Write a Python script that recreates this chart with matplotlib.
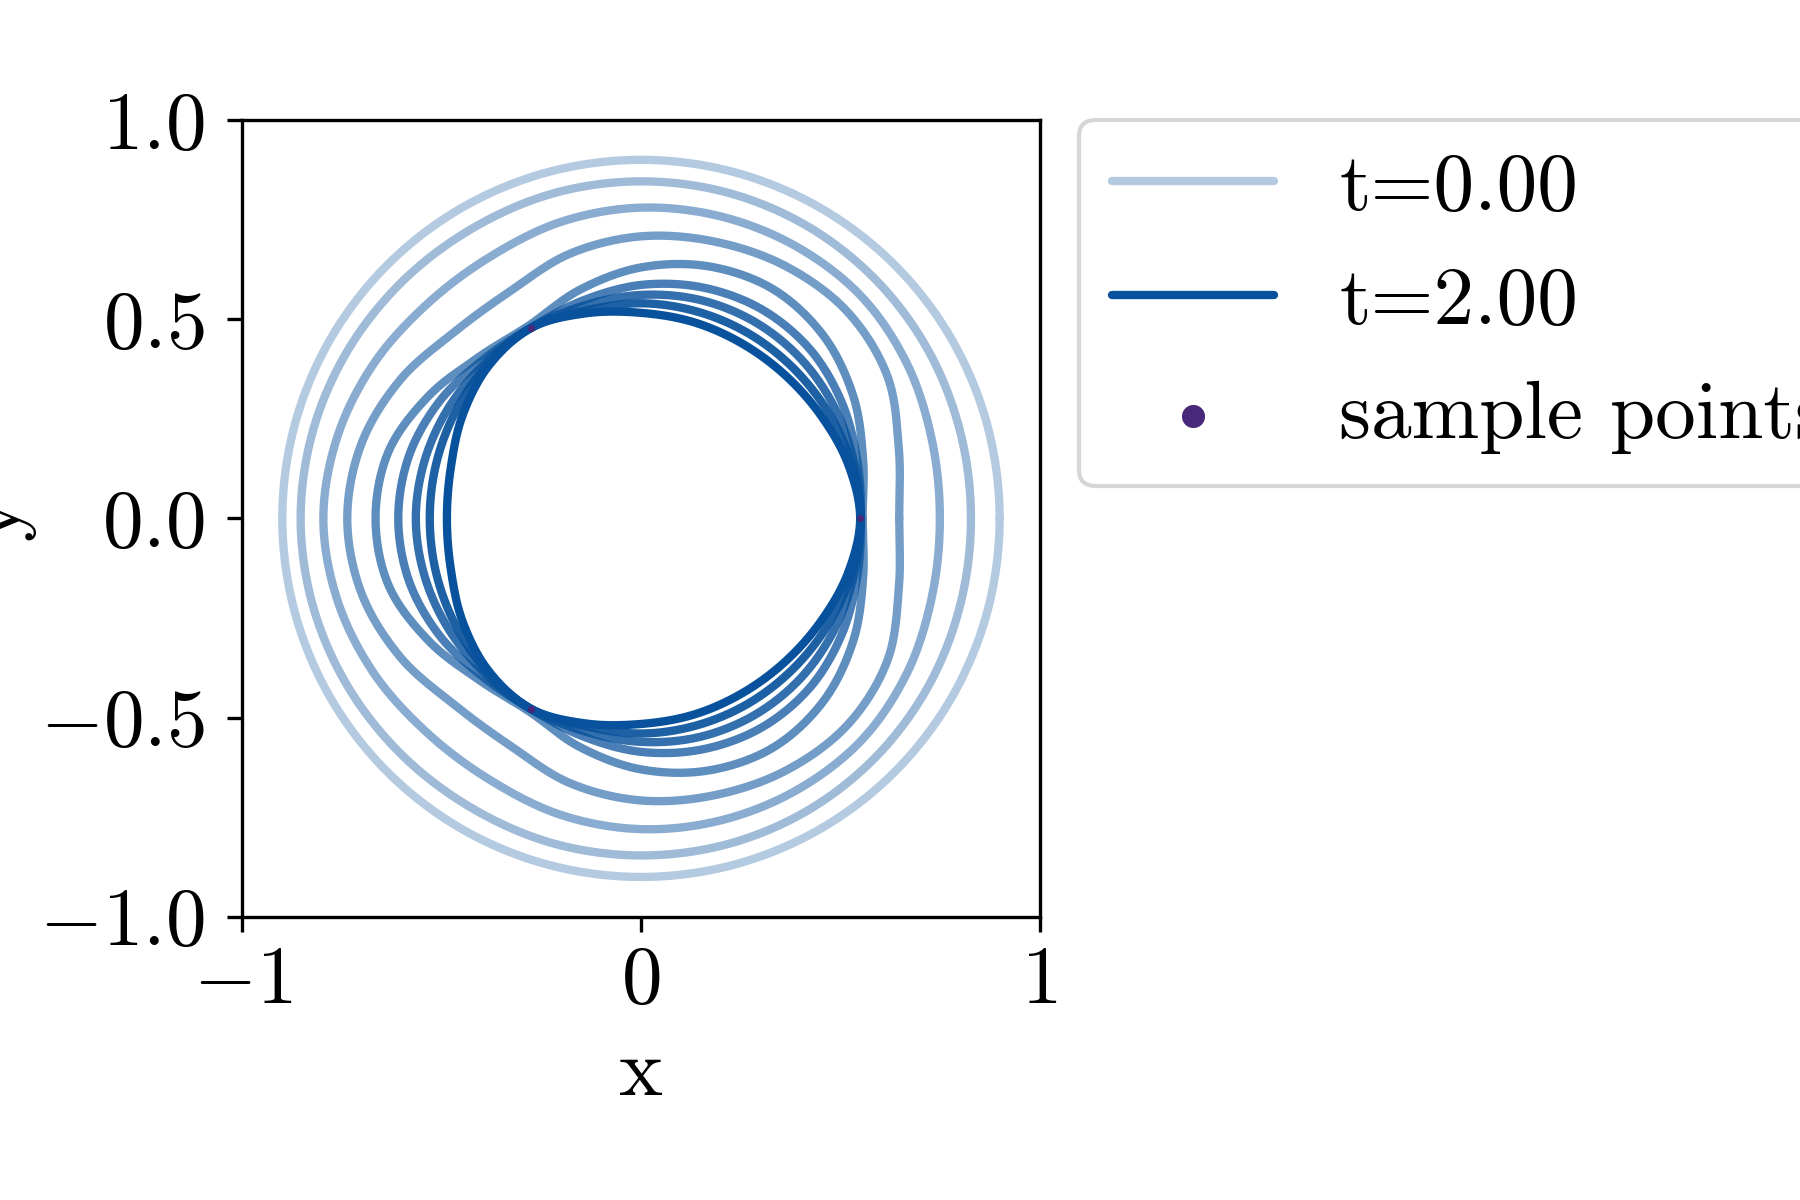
import numpy as np
import matplotlib
matplotlib.use("Agg")
import matplotlib.pyplot as plt
from matplotlib.ticker import FuncFormatter, MultipleLocator

plt.rcParams['mathtext.fontset'] = 'cm'
plt.rcParams['font.family'] = ['cmr10', 'DejaVu Serif']
plt.rcParams['axes.unicode_minus'] = False

# ---- data ----
# polar angle (deg) of the read points, upper half; curves are mirror-symmetric about y=0
angles_deg = [0, 15, 30, 45, 60, 75, 90, 105, 120, 135, 150, 165, 180]
# radius of each curve at those angles, from t=0.00 (outer) to t=2.00 (inner)
r_t0 = [0.900, 0.900, 0.900, 0.900, 0.900, 0.900, 0.900, 0.900, 0.900, 0.900, 0.900, 0.900, 0.900]
r_t1 = [0.828, 0.830, 0.835, 0.840, 0.844, 0.846, 0.846, 0.845, 0.842, 0.844, 0.848, 0.852, 0.854]
r_t2 = [0.750, 0.756, 0.772, 0.785, 0.786, 0.784, 0.780, 0.771, 0.758, 0.760, 0.775, 0.789, 0.797]
r_t3 = [0.648, 0.670, 0.714, 0.733, 0.730, 0.719, 0.708, 0.688, 0.658, 0.662, 0.697, 0.726, 0.737]
r_t4 = [0.556, 0.577, 0.615, 0.648, 0.664, 0.655, 0.630, 0.594, 0.560, 0.574, 0.615, 0.655, 0.666]
r_t5 = [0.552, 0.562, 0.582, 0.600, 0.606, 0.600, 0.586, 0.566, 0.553, 0.562, 0.585, 0.603, 0.609]
r_t6 = [0.551, 0.553, 0.560, 0.567, 0.570, 0.568, 0.561, 0.553, 0.552, 0.552, 0.557, 0.562, 0.565]
r_t7 = [0.551, 0.546, 0.540, 0.537, 0.537, 0.538, 0.540, 0.540, 0.552, 0.545, 0.537, 0.532, 0.530]
r_t8 = [0.550, 0.537, 0.520, 0.510, 0.507, 0.510, 0.516, 0.533, 0.552, 0.541, 0.517, 0.494, 0.487]
curves = [r_t0, r_t1, r_t2, r_t3, r_t4, r_t5, r_t6, r_t7, r_t8]

sample_x = [0.55, -0.276, -0.276]
sample_y = [0.0, 0.478, -0.478]

legend_labels = ["t=0.00", "t=2.00", "sample points"]
x_ticks = [-1, 0, 1]


def closed_smooth(theta_half, r_half, n=24):
    """Mirror the upper half and draw a smooth closed (Catmull-Rom) line through the points."""
    th = np.deg2rad(np.asarray(theta_half, float))
    r = np.asarray(r_half, float)
    th_full = np.concatenate([th, 2 * np.pi - th[-2:0:-1]])
    r_full = np.concatenate([r, r[-2:0:-1]])
    P = np.column_stack([r_full * np.cos(th_full), r_full * np.sin(th_full)])
    m = len(P)
    s = np.linspace(0, 1, n, endpoint=False)[:, None]
    out = []
    for i in range(m):
        p0, p1, p2, p3 = P[(i - 1) % m], P[i], P[(i + 1) % m], P[(i + 2) % m]
        seg = 0.5 * ((2 * p1) + (-p0 + p2) * s + (2 * p0 - 5 * p1 + 4 * p2 - p3) * s ** 2
                     + (-p0 + 3 * p1 - 3 * p2 + p3) * s ** 3)
        out.append(seg)
    out = np.vstack(out + [P[:1]])
    return out[:, 0], out[:, 1]


fig = plt.figure(figsize=(6, 4), dpi=300)
ax = fig.add_axes([0.1347, 0.236, 0.4428, 0.664])

base = '#08519c'
alphas = np.linspace(0.3, 1.0, len(curves))
handles = []
for i, rr in enumerate(curves):
    xs, ys = closed_smooth(angles_deg, rr)
    ln, = ax.plot(xs, ys, color=base, alpha=alphas[i], lw=2.0, solid_capstyle='round')
    handles.append(ln)

sc = ax.scatter(sample_x, sample_y, s=3, color='#482878', zorder=5, linewidths=0)

ax.set_xlim(-1, 1)
ax.set_ylim(-1, 1)
ax.set_xticks(x_ticks)
ax.yaxis.set_major_locator(MultipleLocator(0.5))
ax.xaxis.set_major_formatter(FuncFormatter(lambda v, p: r'$%d$' % round(v)))
ax.yaxis.set_major_formatter(FuncFormatter(lambda v, p: r'$%.1f$' % v))
ax.tick_params(labelsize=19.5)
ax.tick_params(axis='y', pad=5.5)
ax.set_xlabel('x', fontsize=20, labelpad=4.5)
ax.set_ylabel('y', fontsize=20, labelpad=1)

leg = ax.legend([handles[0], handles[-1], sc], legend_labels,
                loc='upper left', bbox_to_anchor=(1.05, 1.0), borderaxespad=0,
                fontsize=19.5, markerscale=3.2, labelspacing=0.5)

fig.savefig('out.png', dpi=300)
